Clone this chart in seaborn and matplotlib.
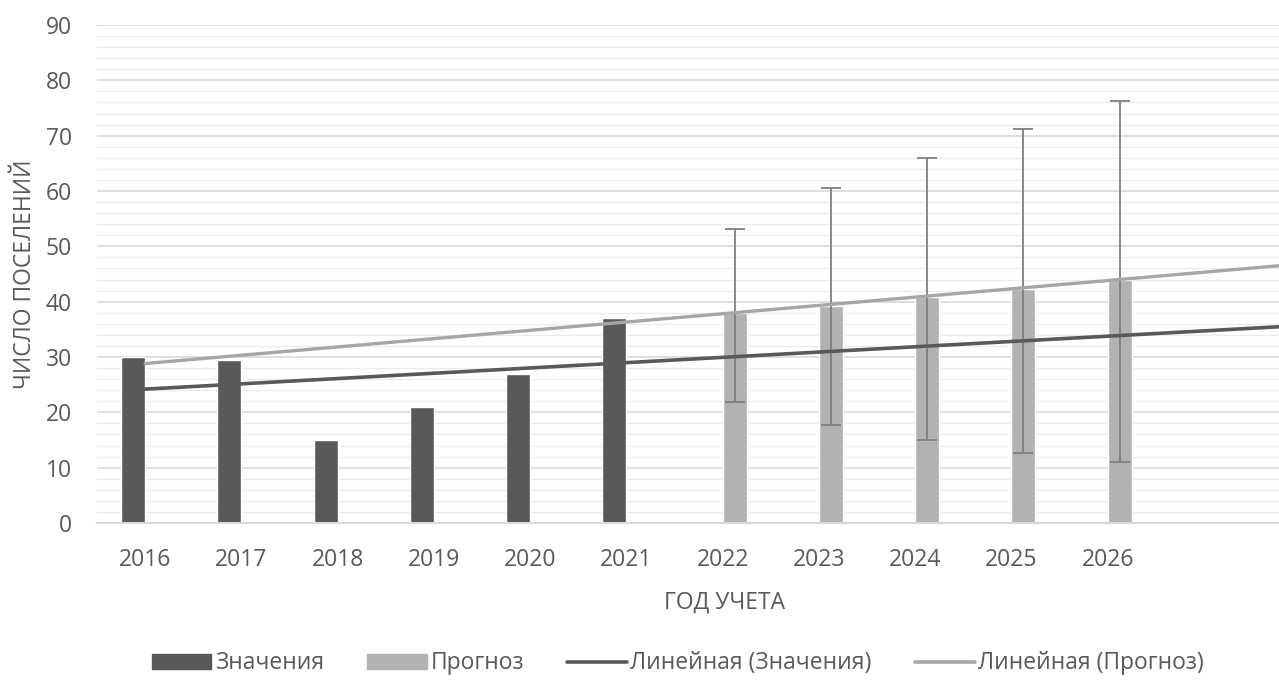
import matplotlib
matplotlib.use('Agg')
import matplotlib.pyplot as plt
import matplotlib.patches as mpatches
import matplotlib.lines as mlines
import numpy as np
import pandas as pd
import seaborn as sns

years = ['2016', '2017', '2018', '2019', '2020', '2021', '2022', '2023', '2024', '2025', '2026']
values_years = ['2016', '2017', '2018', '2019', '2020', '2021']
values = [30, 29.5, 15, 21, 27, 37]
forecast_years = ['2022', '2023', '2024', '2025', '2026']
forecast = [37.9, 39.2, 40.9, 42.2, 43.9]
forecast_low = [21.8, 17.8, 15.0, 12.6, 11.1]
forecast_high = [53.2, 60.5, 66.0, 71.2, 76.3]

dark = '#595959'
light = '#b2b2b2'
text_color = '#595959'

sns.set_style('white')
plt.rcParams['font.family'] = ['Open Sans', 'DejaVu Sans']

df = pd.concat([
    pd.DataFrame({'year': values_years, 'value': values, 'series': 'Значения'}),
    pd.DataFrame({'year': forecast_years, 'value': forecast, 'series': 'Прогноз'}),
])

fig = plt.figure(figsize=(12.79, 6.86), dpi=100)
ax = fig.add_axes([0.0758, 0.2376, 0.9242, 0.726])

sns.barplot(data=df, x='year', y='value', hue='series', order=years,
            hue_order=['Значения', 'Прогноз'], palette=[dark, light],
            width=0.5, gap=0, dodge=True, saturation=1, errorbar=None,
            legend=False, ax=ax)

# error bars on forecast
pos = {y: i for i, y in enumerate(years)}
fx = np.array([pos[y] for y in forecast_years]) + 0.125
f = np.array(forecast)
ax.errorbar(fx, f, yerr=[f - np.array(forecast_low), np.array(forecast_high) - f],
            fmt='none', ecolor='#7f7f7f', elinewidth=1.3, capsize=7.5, capthick=1.3, zorder=4)

# linear trends
xv = np.array([pos[y] for y in values_years])
c1 = np.polyfit(xv, values, 1)
c2 = np.polyfit(fx - 0.125, forecast, 1)
xt = np.linspace(0, 12, 50)
ax.plot(xt, np.polyval(c2, xt), color='#a6a6a6', lw=2.4, zorder=5)
ax.plot(xt, np.polyval(c1, xt), color='#595959', lw=2.6, zorder=5)

ax.set_xlim(-0.5, 11.78)
ax.set_ylim(0, 90)
ax.set_yticks(np.arange(0, 91, 10))
ax.set_yticks(np.arange(0, 91, 2), minor=True)
ax.grid(axis='y', which='major', color='#d9d9d9', lw=1.2, zorder=0)
ax.grid(axis='y', which='minor', color='#ececec', lw=1.0, zorder=0)
ax.set_axisbelow(True)
for s in ['top', 'right', 'left']:
    ax.spines[s].set_visible(False)
ax.spines['bottom'].set_color('#d9d9d9')
ax.spines['bottom'].set_linewidth(1.5)
ax.tick_params(axis='both', which='both', length=0, colors=text_color, labelsize=16.5)
ax.tick_params(axis='x', pad=18)
ax.tick_params(axis='y', pad=18)

ax.set_xlabel('ГОД УЧЕТА', fontsize=16.5, color=text_color)
ax.xaxis.set_label_coords(0.531, -0.135)
ax.set_ylabel('ЧИСЛО ПОСЕЛЕНИЙ', fontsize=16.5, color=text_color)
ax.yaxis.set_label_coords(-0.051, 0.5)

handles = [
    mpatches.Patch(color=dark, label='Значения'),
    mpatches.Patch(color=light, label='Прогноз'),
    mlines.Line2D([], [], color='#595959', lw=2.6, label='Линейная (Значения)'),
    mlines.Line2D([], [], color='#a6a6a6', lw=2.6, label='Линейная (Прогноз)'),
]
leg = fig.legend(handles=handles, loc='center', bbox_to_anchor=(0.53, 0.033), ncol=4,
                 frameon=False, fontsize=16.5, handlelength=2.6, handleheight=0.6,
                 handletextpad=0.15, columnspacing=1.9)
for t in leg.get_texts():
    t.set_color(text_color)

fig.savefig('out.png', dpi=100)
